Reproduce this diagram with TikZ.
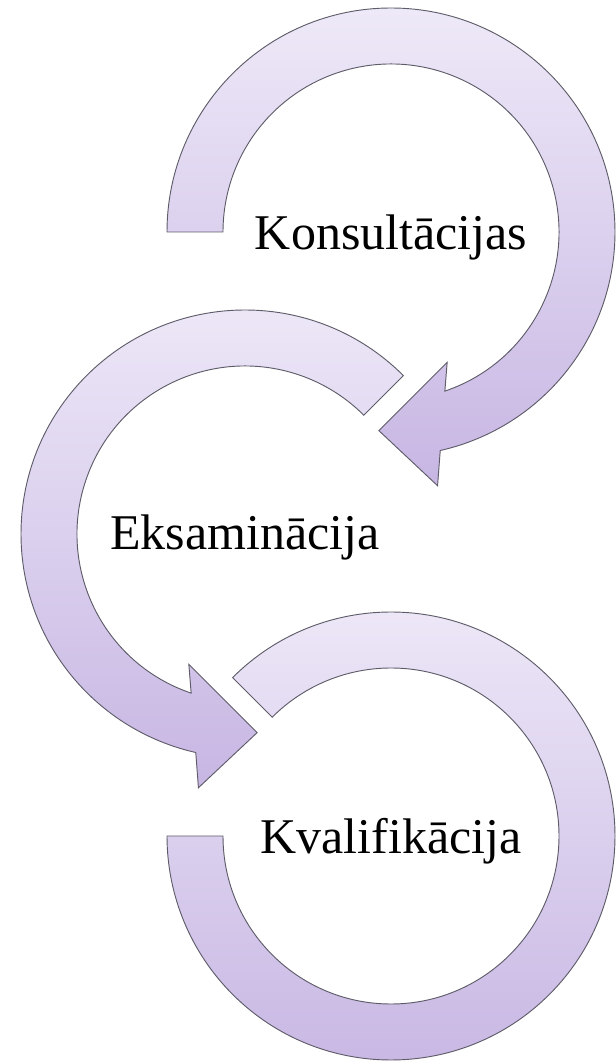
\documentclass[tikz,border=0pt]{standalone}
\usepackage{fontspec}
\setmainfont{Liberation Serif}[Ligatures=NoCommon]
\definecolor{lilatop}{RGB}{238,233,248}
\definecolor{lilamid}{RGB}{222,212,240}
\definecolor{lilabot}{RGB}{199,182,227}
\definecolor{lilaline}{RGB}{95,92,105}
\begin{document}
\begin{tikzpicture}[x=0.75pt, y=0.75pt,
    ring/.style={draw=lilaline, line width=0.7pt, top color=lilatop, middle color=lilamid, bottom color=lilabot},
    lbl/.style={anchor=base, inner sep=0pt, font=\fontsize{37.5}{44}\selectfont}]
    \useasboundingbox (0,0) rectangle (616,1061);
    \coordinate (c1) at (391,829);
    \coordinate (c2) at (245,527);
    \coordinate (c3) at (391,225);
    % top ring
    \begin{scope}[shift={(c1)}]
    \draw[ring] (180:224) arc[start angle=180, end angle=-77.3, radius=224] -- (-79.6:258) -- (-93.5:199)
        -- (-66.7:142) -- (-71.3:168) arc[start angle=-71.3, end angle=180, radius=168] -- cycle;
    \end{scope}
    % middle ring
    \begin{scope}[shift={(c2)}]
    \draw[ring] (45:224) arc[start angle=45, end angle=257.3, radius=224] -- (259.6:258) -- (273.5:199)
        -- (246.7:142) -- (251.3:168) arc[start angle=251.3, end angle=45, radius=168] -- cycle;
    \end{scope}
    % bottom ring
    \begin{scope}[shift={(c3)}]
    \draw[ring] (135:224) arc[start angle=135, end angle=-180, radius=224] -- (-180:168)
        arc[start angle=-180, end angle=135, radius=168] -- cycle;
    \end{scope}
    \node[lbl] (konsult) at ([yshift=-13.5pt]c1) {Konsultācijas};
    \node[lbl] (eksam) at ([yshift=-12pt]c2) {Eksaminācija};
    \node[lbl] (kvalif) at ([yshift=-13.5pt]c3) {Kvalifikācija};
\end{tikzpicture}
\end{document}
